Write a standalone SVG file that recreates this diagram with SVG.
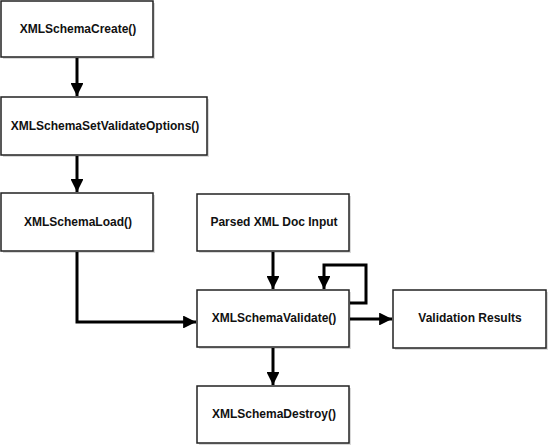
<svg xmlns="http://www.w3.org/2000/svg" width="548" height="447" viewBox="0 0 548 447">
<style>
.box{fill:#fff;stroke:#222;stroke-width:1.5}
.sh{fill:#d9d9d9}
.lbl{font-family:"Liberation Sans",Arial,sans-serif;font-weight:bold;font-size:12px;fill:#111;text-anchor:middle}
.c{fill:none;stroke:#000;stroke-width:3}
</style>
<defs>
<marker id="ah" viewBox="0 0 10 10" refX="10" refY="5" markerWidth="4.3" markerHeight="4.3" markerUnits="strokeWidth" orient="auto">
<path d="M0,0 L10,5 L0,10 Z" fill="#000"/>
</marker>
</defs>
<rect width="548" height="447" fill="#fff"/>
<g id="create"><rect class="sh" x="3" y="3" width="152" height="56"/><rect class="box" x="1" y="1" width="152" height="56"/><text class="lbl" x="78" y="33">XMLSchemaCreate()</text></g>
<g id="setopts"><rect class="sh" x="3" y="99" width="206" height="58"/><rect class="box" x="1" y="97" width="206" height="58"/><text class="lbl" x="105" y="130">XMLSchemaSetValidateOptions()</text></g>
<g id="load"><rect class="sh" x="3" y="195" width="152" height="58"/><rect class="box" x="1" y="193" width="152" height="58"/><text class="lbl" x="78" y="226">XMLSchemaLoad()</text></g>
<g id="parsed"><rect class="sh" x="199" y="196" width="152" height="57"/><rect class="box" x="197" y="194" width="152" height="57"/><text class="lbl" x="274" y="226">Parsed XML Doc Input</text></g>
<g id="validate"><rect class="sh" x="199" y="292" width="152" height="57"/><rect class="box" x="197" y="290" width="152" height="57"/><text class="lbl" x="274" y="322">XMLSchemaValidate()</text></g>
<g id="results"><rect class="sh" x="395" y="292" width="153" height="58"/><rect class="box" x="393" y="290" width="153" height="58"/><text class="lbl" x="470" y="322">Validation Results</text></g>
<g id="destroy"><rect class="sh" x="199" y="388" width="152" height="57"/><rect class="box" x="197" y="386" width="152" height="57"/><text class="lbl" x="274" y="418">XMLSchemaDestroy()</text></g>
<g id="connectors">
<path class="c" d="M77,58 V96" marker-end="url(#ah)"/>
<path class="c" d="M77,156 V192" marker-end="url(#ah)"/>
<path class="c" d="M77,252 V322 H196" marker-end="url(#ah)"/>
<path class="c" d="M273,252 V289" marker-end="url(#ah)"/>
<path class="c" d="M350,303 H366 V265 H324 V289" marker-end="url(#ah)"/>
<path class="c" d="M350,319 H392" marker-end="url(#ah)"/>
<path class="c" d="M273,348 V385" marker-end="url(#ah)"/>
</g>
</svg>
